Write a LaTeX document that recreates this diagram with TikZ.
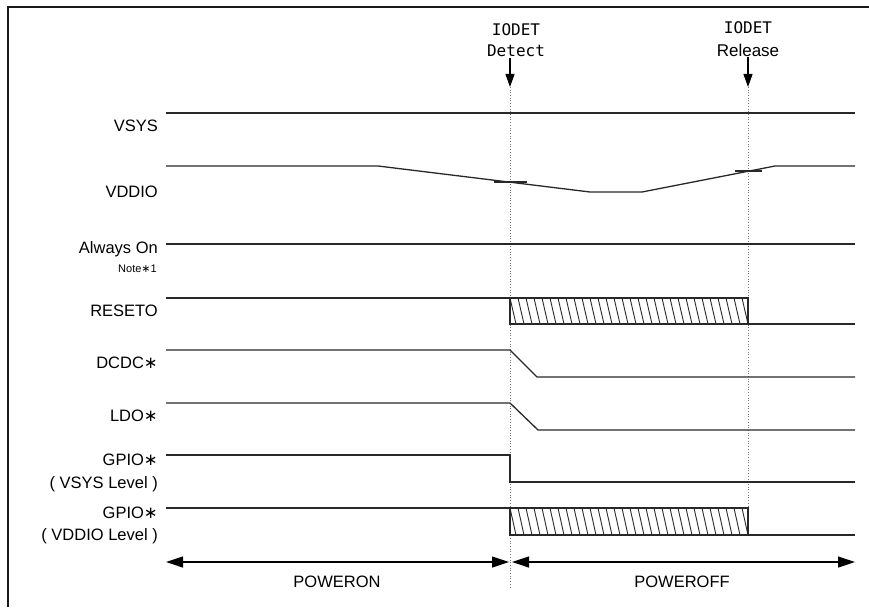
\documentclass[tikz,border=0pt]{standalone}
\usepackage{fontspec}
\setmainfont{Liberation Sans}
\newfontfamily\iodetfont{DejaVu Sans Mono}
\newfontfamily\starfont{DejaVu Sans}
\newcommand{\sigstar}{{\starfont ∗}}
\usetikzlibrary{arrows.meta,positioning,calc}
\definecolor{WaveGray}{RGB}{40,40,40}
\definecolor{FrameGray}{RGB}{25,25,25}
\definecolor{DotGray}{RGB}{120,120,120}
\tikzset{
  sig label/.style={
    anchor=east,
    inner sep=0pt,
    font=\fontsize{16.5}{18}\selectfont,
  },
  note label/.style={
    anchor=east,
    inner sep=0pt,
    font=\fontsize{11}{13}\selectfont,
  },
  event label/.style={
    inner sep=1pt,
    font=\fontsize{16}{18}\selectfont,
  },
  phase label/.style={
    inner sep=0pt,
    font=\fontsize{16.5}{18}\selectfont,
  },
  wave/.style={
    draw=WaveGray,
    line width=1.3pt,
  },
  hatch/.style={
    draw=WaveGray,
    line width=0.9pt,
  },
  marker/.style={
    draw=DotGray,
    line width=0.7pt,
    dotted,
  },
  frame/.style={
    draw=FrameGray,
    line width=1.5pt,
  },
  event arrow/.style={-{Triangle[length=13pt,width=9pt]},line width=1.2pt},
  span arrow/.style={{Triangle[length=17pt,width=11pt]}-{Triangle[length=17pt,width=11pt]},line width=1.2pt},
}

\begin{document}
\begin{tikzpicture}[x=1pt,y=-1pt]
\useasboundingbox (0,0) rectangle (869,607);

% Frame, open to the right and bottom.
\draw[frame] (8,607) -- (8,7) -- (869,7);

% Signal names.
\node[sig label] (vsys) at (158,126) {VSYS};
\node[sig label] (vddio) at (158,192) {VDDIO};
\node[sig label] (alwon) at (158,249) {Always On};
\node[note label] (note1) at (157,269) {Note\sigstar1};
\node[sig label] (reseto) at (158,311) {RESETO};
\node[sig label] (dcdc) at (158,363) {DCDC\sigstar};
\node[sig label] (ldo) at (158,416) {LDO\sigstar};
\node[sig label] (gpio1) at (158,460) {GPIO\sigstar};
\node[sig label] (gpio1lv) at (158,484) {( VSYS Level )};
\node[sig label] (gpio2) at (158,513) {GPIO\sigstar};
\node[sig label] (gpio2lv) at (158,536) {( VDDIO Level )};

% IODET events.
\coordinate (det top) at (510,87);
\coordinate (det bot) at (510,587);
\coordinate (rel top) at (748,87);
\coordinate (rel bot) at (748,508);

\node[event label] (det name) at (516,30) {\iodetfont IODET};
\node[event label] (det what) at (516,51) {\iodetfont Detect};
\node[event label] (rel name) at (748,28) {\iodetfont IODET};
\node[event label,font=\fontsize{17}{19}\selectfont] (rel what) at (748,50) {Release};

\draw[event arrow] (det top |- det what.south) -- (det top);
\draw[event arrow] (rel top |- rel what.south) -- (rel top);
\draw[marker] (det top) -- (det bot);
\draw[marker] (rel top) -- (rel bot);

% Waveforms.
\foreach \y in {113,244}
  \draw[wave] (166,\y) -- (855,\y);

\draw[wave] (166,166) -- (378,166) -- (590,192) -- (642,192) -- (775,166) -- (855,166);
\draw[wave] (494,182) -- (527,182);
\draw[wave] (735,171) -- (762,171);

\draw[wave] (166,350) -- (510,350) -- (537,377) -- (855,377);
\draw[wave] (166,403) -- (510,403) -- (538,430) -- (855,430);
\draw[wave] (166,455) -- (510,455) -- (510,482) -- (855,482);

% Undefined level while POWEROFF.
\foreach \t/\b in {298/324,508/535} {
  \draw[wave] (166,\t) -- (510,\t);
  \begin{scope}
    \clip (510,\t) rectangle (748,\b);
    \foreach \x in {502,510,...,750}
      \draw[hatch] (\x,\t) -- (\x+6,\b);
  \end{scope}
  \draw[wave] (510,\t) rectangle (748,\b);
  \draw[wave] (748,\b) -- (855,\b);
}

% Power states.
\coordinate (on l) at (166,562);
\coordinate (on r) at (509,562);
\coordinate (off l) at (512,562);
\coordinate (off r) at (855,562);
\draw[span arrow] (on l) -- (on r);
\draw[span arrow] (off l) -- (off r);
\node[phase label] (poweron) at (337,582) {POWERON};
\node[phase label] (poweroff) at (682,582) {POWEROFF};

\end{tikzpicture}
\end{document}
